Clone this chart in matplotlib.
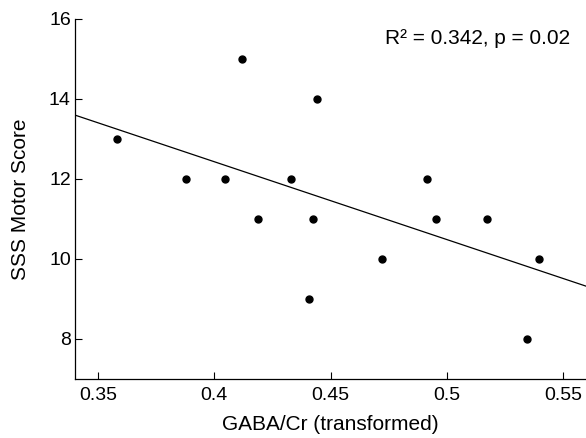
import numpy as np
import matplotlib
matplotlib.use("Agg")
import matplotlib.pyplot as plt

plt.rcParams['font.family'] = ['Liberation Sans', 'DejaVu Sans']

gaba = [0.358, 0.3877, 0.4045, 0.4119, 0.4188, 0.4331, 0.4444, 0.4426,
        0.4409, 0.4721, 0.4916, 0.4955, 0.5175, 0.5396, 0.5348]
sss = [13, 12, 12, 15, 11, 12, 14, 11, 9, 10, 12, 11, 11, 10, 8]
xticks = [0.35, 0.4, 0.45, 0.5, 0.55]
xticklabels = ['0.35', '0.4', '0.45', '0.5', '0.55']
yticks = [8, 10, 12, 14, 16]

fig = plt.figure(figsize=(5.86, 4.38), dpi=100)
ax = fig.add_axes([0.128, 0.135, 0.872, 0.822])

ax.plot(gaba, sss, 'o', color='black', markersize=5)
slope, intercept = np.polyfit(gaba, sss, 1)
xl = np.array([0.34, 0.56])
ax.plot(xl, slope * xl + intercept, color='black', linewidth=0.9)

ax.set_xlim(0.34, 0.56)
ax.set_ylim(7, 16)
ax.set_xticks(xticks)
ax.set_xticklabels(xticklabels)
ax.set_yticks(yticks)
ax.tick_params(direction='in', length=5, width=0.8, labelsize=14)
ax.tick_params(axis='x', pad=6)
ax.tick_params(axis='y', pad=3)
for s in ['top', 'right']:
    ax.spines[s].set_visible(False)
for s in ['left', 'bottom']:
    ax.spines[s].set_linewidth(0.9)

ax.set_xlabel('GABA/Cr (transformed)', fontsize=15, labelpad=8)
ax.set_ylabel('SSS Motor Score', fontsize=15, labelpad=14)
ax.text(0.815, 0.913, 'R\u00b2 = 0.342, p = 0.02', transform=fig.transFigure,
        fontsize=15, ha='center', va='center')

fig.savefig('out.png', dpi=100)
